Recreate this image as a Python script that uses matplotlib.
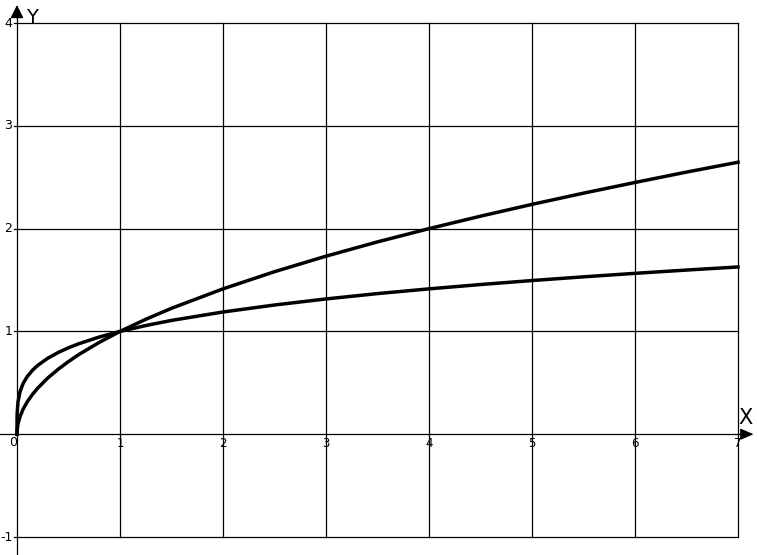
import matplotlib
matplotlib.use('Agg')
import matplotlib.pyplot as plt

# puntos
x = [0, 0.0005, 0.002, 0.01, 0.03, 0.06, 0.1, 0.15, 0.2, 0.3, 0.4, 0.5, 0.6, 0.8,
     1, 1.25, 1.5, 2, 2.5, 3, 3.5, 4, 4.5, 5, 5.5, 6, 6.5, 7]
y_raiz2 = [0, 0.022, 0.045, 0.1, 0.173, 0.245, 0.316, 0.387, 0.447, 0.548, 0.632, 0.707,
           0.775, 0.894, 1, 1.118, 1.225, 1.414, 1.581, 1.732, 1.871, 2, 2.121, 2.236,
           2.345, 2.449, 2.55, 2.646]
y_raiz4 = [0, 0.15, 0.211, 0.316, 0.416, 0.495, 0.562, 0.622, 0.669, 0.74, 0.795, 0.841,
           0.88, 0.946, 1, 1.057, 1.107, 1.189, 1.257, 1.316, 1.368, 1.414, 1.456, 1.495,
           1.531, 1.565, 1.597, 1.627]

xticks = [0, 1, 2, 3, 4, 5, 6, 7]
yticks = [-1, 0, 1, 2, 3, 4]

fig = plt.figure(figsize=(7.57, 5.55), dpi=100)
ax = fig.add_axes([0, 0, 1, 1])
ax.set_xlim(-0.165, 7.184)
ax.set_ylim(-1.175, 4.224)
ax.axis('off')

# cuadricula
for v in xticks[1:]:
    ax.plot([v, v], [-1, 4], color='black', lw=0.9)
for v in yticks:
    if v != 0:
        ax.plot([-0.03, 7], [v, v], color='black', lw=0.9)

# ejes con flechas
ax.plot([-0.165, 7.05], [0, 0], color='black', lw=0.9)
ax.plot([0, 0], [-1.175, 4.07], color='black', lw=0.9)
ax.annotate('', xy=(7.15, 0), xytext=(7.02, 0),
            arrowprops=dict(arrowstyle='-|>,head_length=0.8,head_width=0.35',
                            color='black', lw=0.9, shrinkA=0, shrinkB=0))
ax.annotate('', xy=(0, 4.175), xytext=(0, 4.05),
            arrowprops=dict(arrowstyle='-|>,head_length=0.8,head_width=0.4',
                            color='black', lw=0.9, shrinkA=0, shrinkB=0))

# curvas
ax.plot(x, y_raiz2, color='black', lw=2.5)
ax.plot(x, y_raiz4, color='black', lw=2.5)

# etiquetas
for v in xticks:
    if v == 0:
        ax.text(-0.04, -0.02, '0', fontsize=9, ha='center', va='top')
    else:
        ax.text(v, -0.03, str(v), fontsize=8.5, ha='center', va='top')
for v in yticks:
    if v != 0:
        ax.text(-0.045, v, str(v), fontsize=9, ha='right', va='center')

ax.text(0.15, 4.05, 'Y', fontsize=14, ha='center', va='center')
ax.text(7.07, 0.156, 'X', fontsize=15, ha='center', va='center')

plt.savefig('out.png', dpi=100)
